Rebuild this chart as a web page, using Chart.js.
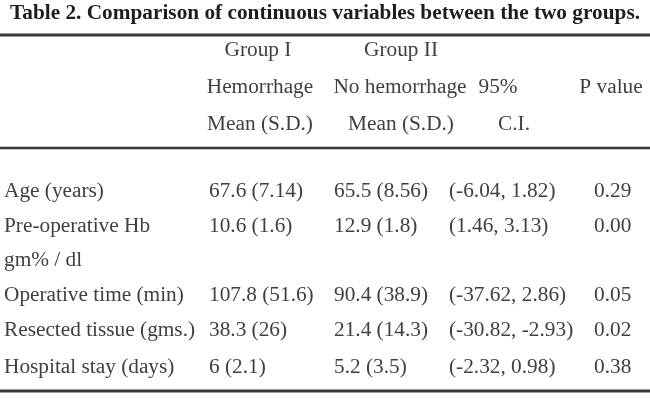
<!DOCTYPE html>
<html>
<head>
<meta charset="utf-8">
<script src="https://cdn.jsdelivr.net/npm/chart.js@4.4.1/dist/chart.umd.min.js"></script>
<style>
html,body{margin:0;padding:0;background:#fff;}
#wrap{width:650px;height:400px;}
</style>
</head>
<body>
<div id="wrap"><canvas id="c" width="650" height="400"></canvas></div>
<script>
// ---- data ----
const tableTitle = 'Table 2. Comparison of continuous variables between the two groups.';
const headerGroup = ['', 'Group I', 'Group II', '', ''];
const headerName = ['', 'Hemorrhage', 'No hemorrhage', '95%', 'P value'];
const headerStat = ['', 'Mean (S.D.)', 'Mean (S.D.)', 'C.I.', ''];
const variables = ['Age (years)', 'Pre-operative Hb', 'Operative time (min)', 'Resected tissue (gms.)', 'Hospital stay (days)'];
const variableSecondLine = ['', 'gm% / dl', '', '', ''];
const groupIMean = [67.6, 10.6, 107.8, 38.3, 6];
const groupISD = [7.14, 1.6, 51.6, 26, 2.1];
const groupIIMean = [65.5, 12.9, 90.4, 21.4, 5.2];
const groupIISD = [8.56, 1.8, 38.9, 14.3, 3.5];
const ciLow = [-6.04, 1.46, -37.62, -30.82, -2.32];
const ciHigh = [1.82, 3.13, 2.86, -2.93, 0.98];
const pValues = [0.29, 0.00, 0.05, 0.02, 0.38];

// ---- layout (page units on the hidden linear scales) ----
const layout = {
  titleX: 10, titleY: 14, titleWidth: 630,
  rules: [{y: 35, w: 3}, {y: 148, w: 2.4}, {y: 391, w: 3}],
  headerY: [51, 88, 125],
  headerCenters: [
    [0, 258, 401, 0, 0],
    [0, 260, 400, 498, 611],
    [0, 260, 401, 514, 0]
  ],
  colLeft: [4, 209, 334, 449, 594],
  rowY: [192, 227, 261, 296, 331, 368],
  fontSize: 20, stretch: 1.065
};

const fmtCell = (m, s) => m + ' (' + s + ')';
const rows = [];
variables.forEach((v, i) => {
  rows.push([v, fmtCell(groupIMean[i], groupISD[i]), fmtCell(groupIIMean[i], groupIISD[i]),
    '(' + ciLow[i].toFixed(2) + ', ' + ciHigh[i].toFixed(2) + ')', pValues[i].toFixed(2)]);
  if (variableSecondLine[i]) rows.push([variableSecondLine[i], '', '', '', '']);
});

const tablePlugin = {
  id: 'tableText',
  afterDatasetsDraw(chart) {
    const {ctx, scales: {x, y}} = chart;
    const fs = layout.fontSize, sx = layout.stretch;
    function txt(s, px, py, align, font, color, stretch) {
      ctx.save();
      ctx.font = font;
      ctx.fillStyle = color;
      ctx.textBaseline = 'middle';
      const w = ctx.measureText(s).width * stretch;
      let left = x.getPixelForValue(px);
      if (align === 'center') left -= w / 2;
      ctx.translate(left, y.getPixelForValue(py));
      ctx.scale(stretch, 1);
      ctx.textAlign = 'left';
      ctx.fillText(s, 0, 0);
      ctx.restore();
    }
    // title: stretched to span titleWidth
    ctx.save();
    const tFont = 'bold 20px "Liberation Serif"';
    ctx.font = tFont;
    const tw = ctx.measureText(tableTitle).width;
    ctx.restore();
    const tsx = (x.getPixelForValue(layout.titleX + layout.titleWidth) - x.getPixelForValue(layout.titleX)) / tw;
    txt(tableTitle, layout.titleX, layout.titleY, 'left', tFont, '#1e1e1e', tsx);
    const bodyFont = fs + 'px "Liberation Serif"';
    [headerGroup, headerName, headerStat].forEach((hr, r) => {
      hr.forEach((s, c) => { if (s) txt(s, layout.headerCenters[r][c], layout.headerY[r], 'center', bodyFont, '#404040', sx); });
    });
    rows.forEach((row, r) => {
      row.forEach((s, c) => { if (s) txt(s, layout.colLeft[c], layout.rowY[r], 'left', bodyFont, '#404040', sx); });
    });
  }
};

const ruleDatasets = layout.rules.map(r => ({
  data: [{x: 0, y: r.y}, {x: 650, y: r.y}],
  showLine: true, pointRadius: 0, borderColor: '#3a3a3a', borderWidth: r.w, fill: false
}));

new Chart(document.getElementById('c'), {
  type: 'scatter',
  data: {datasets: ruleDatasets},
  options: {
    responsive: false, animation: false, devicePixelRatio: 1,
    layout: {padding: 0},
    plugins: {legend: {display: false}, tooltip: {enabled: false}},
    scales: {
      x: {type: 'linear', min: 0, max: 650, display: false},
      y: {type: 'linear', min: 0, max: 400, reverse: true, display: false}
    }
  },
  plugins: [tablePlugin]
});
</script>
</body>
</html>
